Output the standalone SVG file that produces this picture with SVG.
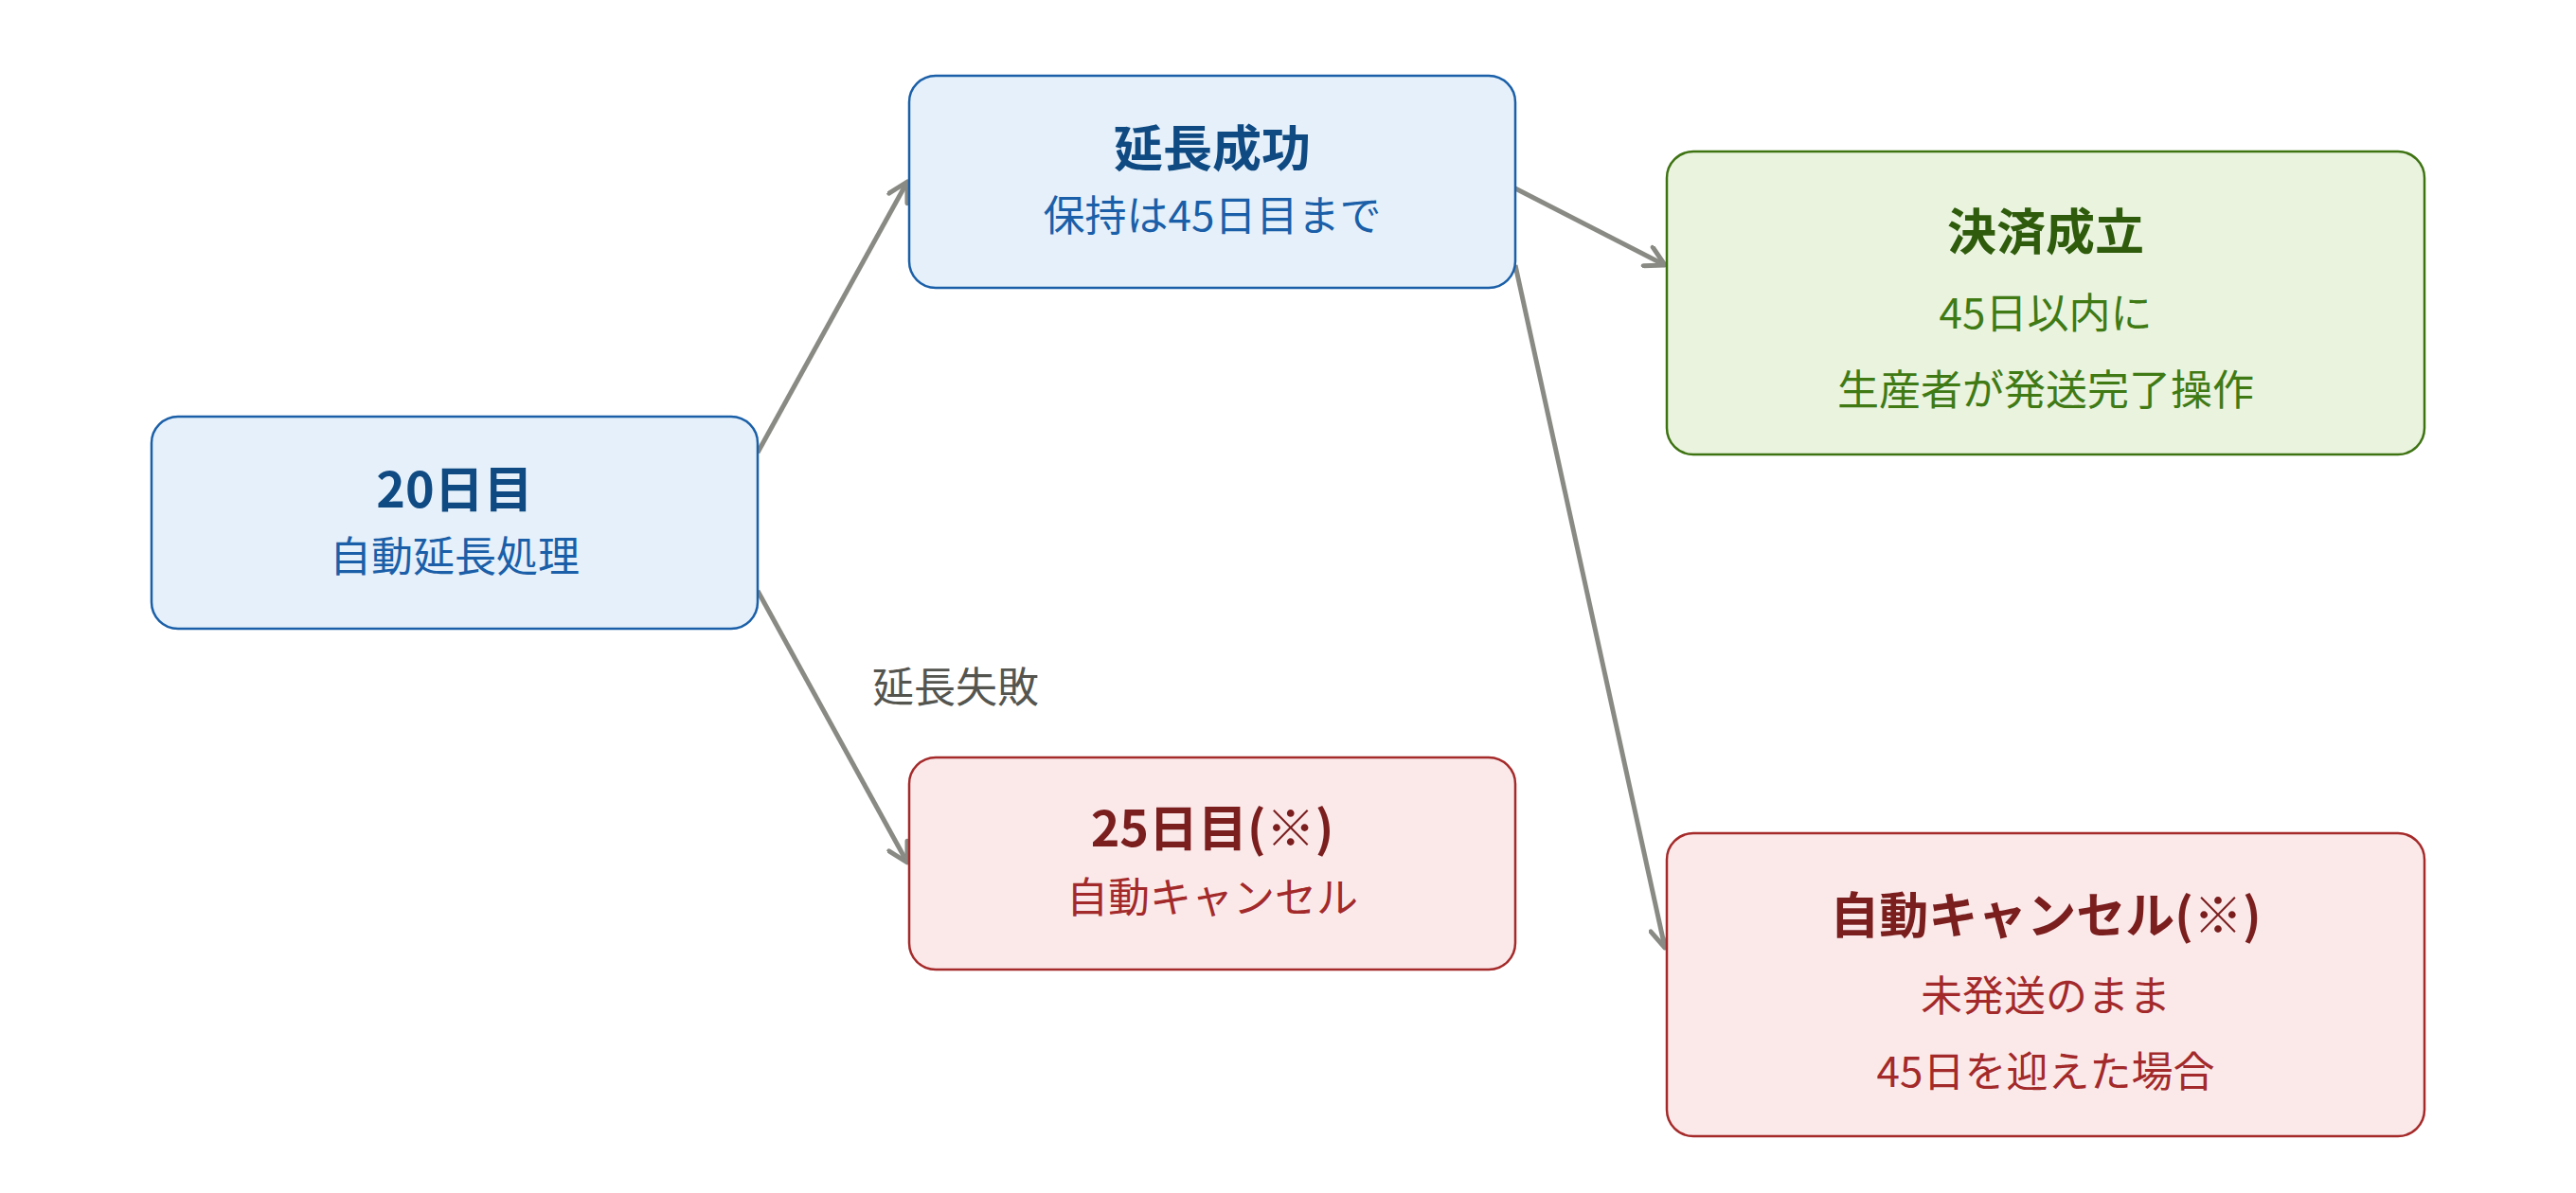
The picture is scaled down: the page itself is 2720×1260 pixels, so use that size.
<svg xmlns="http://www.w3.org/2000/svg" width="2720" height="1260" viewBox="0 0 2720 1260">
<defs>
<style>
text{font-family:"Noto Sans CJK JP","Noto Sans",sans-serif;text-anchor:middle;dominant-baseline:central}
.t{font-size:52px;font-weight:700}
.s{font-size:44px;font-weight:400}
.blue rect{fill:#e5f0fa;stroke:#1a5fa8;stroke-width:2.5}
.blue .t{fill:#0f4a82}
.blue .s{fill:#1a5fa8}
.green rect{fill:#e9f3de;stroke:#3e7312;stroke-width:2.5}
.green .t{fill:#2f5c0c}
.green .s{fill:#3f7a15}
.red rect{fill:#fbe9ea;stroke:#a52a2a;stroke-width:2.5}
.red .t{fill:#7a1e1e}
.red .s{fill:#a32a2a}
.edge{fill:none;stroke:#8a8a84;stroke-width:5;marker-end:url(#arr)}
.lbl{fill:#55554f;font-size:44px;text-anchor:start}
</style>
<marker id="arr" viewBox="0 0 26 26" refX="23" refY="13" markerWidth="26" markerHeight="26" markerUnits="userSpaceOnUse" orient="auto">
<path d="M3,2 L23,13 L3,24" fill="none" stroke="#8a8a84" stroke-width="5" stroke-linecap="round" stroke-linejoin="round"/>
</marker>
</defs>
<rect width="2720" height="1260" fill="#ffffff"/>
<g id="connectors">
<line class="edge" x1="800" y1="478" x2="958" y2="192"/>
<line class="edge" x1="800" y1="624" x2="958" y2="911"/>
<line class="edge" x1="1600" y1="199" x2="1758" y2="280"/>
<line class="edge" x1="1600" y1="280" x2="1758" y2="1001"/>
<text class="lbl" x="921" y="723">延長失敗</text>
</g>
<g id="n20" class="blue">
<rect x="160" y="440" width="640" height="224" rx="28"/>
<text class="t" x="480" y="513">20日目</text>
<text class="s" x="480" y="585">自動延長処理</text>
</g>
<g id="nsuccess" class="blue">
<rect x="960" y="80" width="640" height="224" rx="28"/>
<text class="t" x="1280" y="153">延長成功</text>
<text class="s" x="1280" y="225">保持は45日目まで</text>
</g>
<g id="nsettle" class="green">
<rect x="1760" y="160" width="800" height="320" rx="28"/>
<text class="t" x="2160" y="241">決済成立</text>
<text class="s" x="2160" y="328">45日以内に</text>
<text class="s" x="2160" y="409">生産者が発送完了操作</text>
</g>
<g id="n25" class="red">
<rect x="960" y="800" width="640" height="224" rx="28"/>
<text class="t" x="1280" y="871">25日目(※)</text>
<text class="s" x="1280" y="945">自動キャンセル</text>
</g>
<g id="ncancel" class="red">
<rect x="1760" y="880" width="800" height="320" rx="28"/>
<text class="t" x="2160" y="963">自動キャンセル(※)</text>
<text class="s" x="2160" y="1049">未発送のまま</text>
<text class="s" x="2160" y="1129">45日を迎えた場合</text>
</g>
</svg>
